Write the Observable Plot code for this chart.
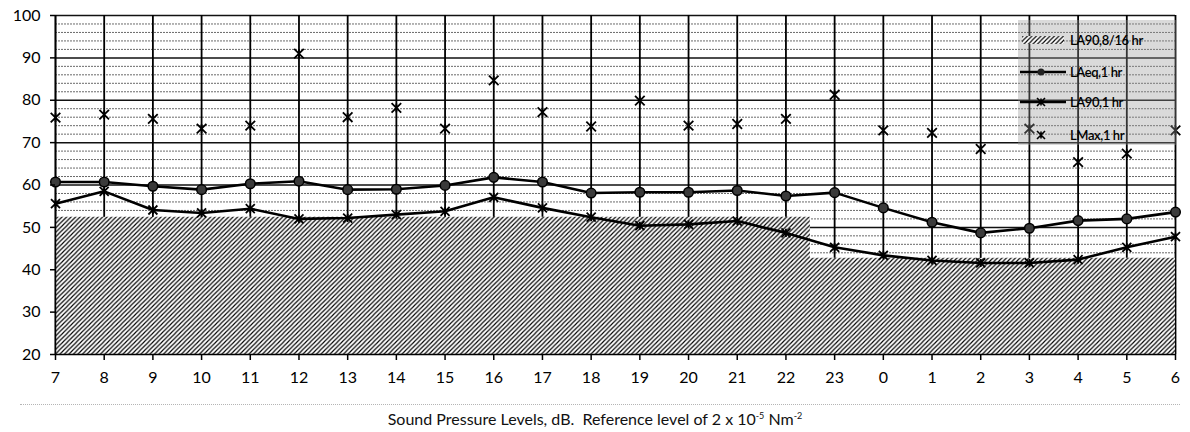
<!DOCTYPE html>
<html>
<head>
<meta charset="utf-8">
<script src="https://cdn.jsdelivr.net/npm/d3@7"></script>
<script src="https://cdn.jsdelivr.net/npm/@observablehq/plot@0.6"></script>
<style>
  body { margin: 0; background: #fff; font-family: Lato, "Open Sans", sans-serif; }
  #wrap { position: relative; width: 1190px; height: 432px; }
  #legend { position: absolute; left: 1018px; top: 20px; width: 159px; height: 125px;
            background: rgba(150,150,150,0.35); font-size: 13px; color: #000; }
  .item { position: absolute; left: 0; height: 16px; display: flex; align-items: center; }
  .item span { margin-left: 4px; letter-spacing: -0.4px; font-weight: 600; }
  #dots { position: absolute; left: 20px; top: 404px; width: 1160px; border-top: 1px dotted #b5b5b5; }
  #caption { position: absolute; left: 0; top: 410px; width: 1190px; text-align: center;
             font-size: 16px; line-height: 18px; color: #111; }
  #caption sup { font-size: 9px; vertical-align: 6px; line-height: 0; }
</style>
</head>
<body>
<div id="wrap">
  <div id="chart"></div>
  <div id="legend"></div>
  <div id="dots"></div>
  <div id="caption">Sound Pressure Levels, dB.&nbsp; Reference level of 2 x 10<sup>-5</sup> Nm<sup>-2</sup></div>
</div>
<script>
// ---- data ----
const hours = ["7","8","9","10","11","12","13","14","15","16","17","18","19","20","21","22","23","0","1","2","3","4","5","6"];
const laeq1hr = [60.7,60.7,59.7,58.9,60.3,60.9,58.9,59.0,59.9,61.8,60.7,58.1,58.3,58.3,58.7,57.4,58.2,54.6,51.2,48.7,49.8,51.6,52.0,53.6];
const la90_1hr = [55.6,58.5,54.1,53.4,54.4,52.0,52.2,53.0,53.8,57.1,54.6,52.4,50.4,50.7,51.5,48.7,45.3,43.4,42.2,41.6,41.6,42.4,45.3,47.8];
const lmax1hr = [75.9,76.6,75.6,73.3,74.0,91.0,76.0,78.2,73.3,84.7,77.2,73.8,79.9,74.0,74.4,75.6,81.3,72.9,72.3,68.5,73.3,65.4,67.4,72.9];
const la90Period = [52.4,52.4,52.4,52.4,52.4,52.4,52.4,52.4,52.4,52.4,52.4,52.4,52.4,52.4,52.4,52.4,42.7,42.7,42.7,42.7,42.7,42.7,42.7,42.7];
const yTicks = [20,30,40,50,60,70,80,90,100];
const seriesNames = ["LA90,8/16 hr","LAeq,1 hr","LA90,1 hr","LMax,1 hr"];

const rows = hours.map((h, i) => ({h, laeq: laeq1hr[i], la90: la90_1hr[i], lmax: lmax1hr[i], per: la90Period[i]}));
const minor = d3.range(22, 100, 2).filter(v => v % 10 !== 0);
const major = yTicks.slice(1);

const star = {
  draw(ctx, size) {
    const r = Math.sqrt(size / Math.PI);
    ctx.moveTo(-r, -r); ctx.lineTo(r, r);
    ctx.moveTo(r, -r); ctx.lineTo(-r, r);
    ctx.moveTo(0, -r * 0.9); ctx.lineTo(0, r * 0.9);
  }
};

const svg = Plot.plot({
  width: 1190, height: 400,
  marginLeft: 55, marginRight: 15, marginTop: 15, marginBottom: 46,
  style: {fontFamily: "Lato, 'Open Sans', sans-serif", fontSize: "16px", color: "#000", background: "#fff"},
  x: {type: "point", domain: hours, padding: 0, round: false, label: null},
  y: {domain: [20, 100], label: null},
  marks: [
    Plot.ruleY(minor, {stroke: "#6a6a6a", strokeDasharray: "2,1", strokeWidth: 1}),
    Plot.ruleY(major, {stroke: "#111", strokeWidth: 1.5}),
    Plot.ruleX(hours, {stroke: "#000", strokeWidth: 1.8}),
    Plot.areaY(rows, {x: "h", y1: 20, y2: "per", curve: "step", fill: "url(#hatch)"}),
    Plot.ruleX([hours[0]], {stroke: "#000", strokeWidth: 1.5}),
    Plot.ruleY([20], {stroke: "#000", strokeWidth: 1.5}),
    Plot.line(rows, {x: "h", y: "la90", stroke: "#000", strokeWidth: 2.6}),
    Plot.line(rows, {x: "h", y: "laeq", stroke: "#000", strokeWidth: 2.6}),
    Plot.dot(rows, {x: "h", y: "laeq", r: 4.8, fill: "#3a3a3a", stroke: "#000", strokeWidth: 1.5}),
    Plot.dot(rows, {x: "h", y: "la90", symbol: star, r: 4.5, fill: "none", stroke: "#000", strokeWidth: 1.8}),
    Plot.dot(rows, {x: "h", y: "lmax", symbol: star, r: 4.8, fill: "none", stroke: "#000", strokeWidth: 1.8}),
    Plot.axisY({ticks: yTicks, tickSize: 5, tickPadding: 10, stroke: "#000", strokeWidth: 1.5}),
    Plot.axisX({tickSize: 6, tickPadding: 11, stroke: "#000", strokeWidth: 1.5})
  ]
});

function addHatch(svgEl, id) {
  const s = 4.5;
  const defs = d3.select(svgEl).insert("defs", ":first-child");
  const p = defs.append("pattern").attr("id", id).attr("patternUnits", "userSpaceOnUse")
    .attr("width", s).attr("height", s);
  p.append("rect").attr("width", s).attr("height", s).attr("fill", "#fff");
  p.append("path").attr("d", `M-1,1 l2,-2 M0,${s} l${s},${-s} M${s-1},${s+1} l2,-2`)
    .attr("stroke", "#000").attr("stroke-width", 1.15);
}
addHatch(svg, "hatch");
document.getElementById("chart").appendChild(svg);

// ---- legend ----
const legend = d3.select("#legend");
const tops = [12, 44, 74, 107];
const sw = (i) => {
  const item = legend.append("div").attr("class", "item").style("top", tops[i] + "px");
  const s = item.append("svg").attr("width", 48).attr("height", 16);
  if (i === 0) {
    s.append("rect").attr("x", 4).attr("y", 4).attr("width", 42).attr("height", 8).attr("fill", "url(#hatch)");
  } else if (i === 1) {
    s.append("line").attr("x1", 2).attr("x2", 48).attr("y1", 8).attr("y2", 8).attr("stroke", "#000").attr("stroke-width", 2.5);
    s.append("circle").attr("cx", 23).attr("cy", 8).attr("r", 3.5).attr("fill", "#222");
  } else {
    if (i === 2) s.append("line").attr("x1", 2).attr("x2", 48).attr("y1", 8).attr("y2", 8).attr("stroke", "#000").attr("stroke-width", 2.5);
    s.append("path").attr("d", "M19,4 L27,12 M27,4 L19,12 M23,4.5 L23,11.5").attr("stroke", "#000").attr("stroke-width", 1.6);
  }
  item.append("span").text(seriesNames[i]);
};
seriesNames.forEach((_, i) => sw(i));
</script>
</body>
</html>
